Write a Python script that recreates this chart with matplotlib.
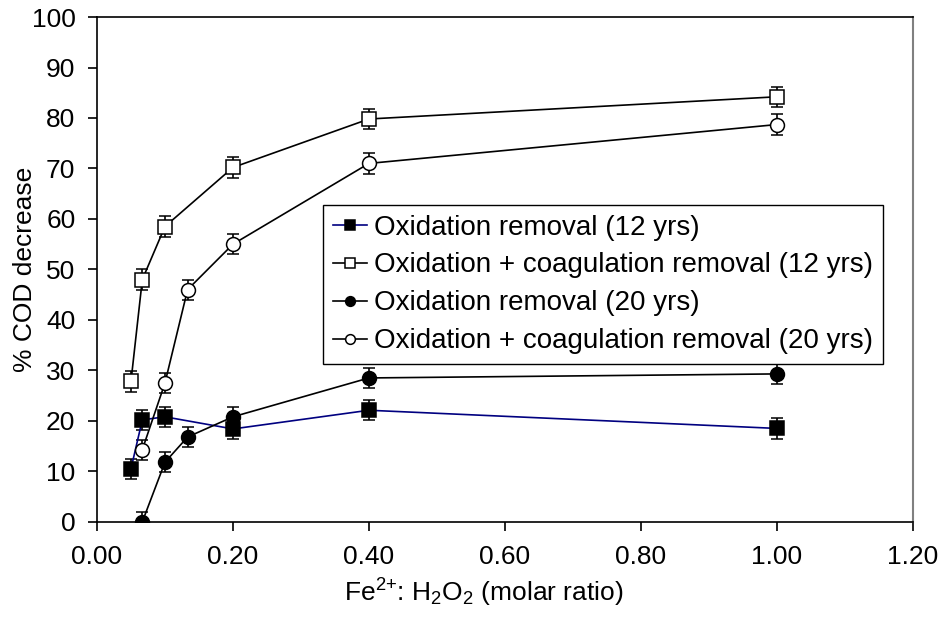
import matplotlib
matplotlib.use("Agg")
import matplotlib.pyplot as plt

plt.rcParams['font.family'] = ['Liberation Sans', 'DejaVu Sans']
plt.rcParams['mathtext.fontset'] = 'custom'
plt.rcParams['mathtext.rm'] = 'Liberation Sans'
plt.rcParams['mathtext.it'] = 'Liberation Sans'
plt.rcParams['mathtext.bf'] = 'Liberation Sans:bold'

x_a = [0.05, 0.0667, 0.1, 0.2, 0.4, 1.0]
ox12 = [10.5, 20.2, 20.8, 18.4, 22.1, 18.5]
oxcoag12 = [27.8, 48.0, 58.5, 70.2, 79.8, 84.2]
x_b = [0.0667, 0.1, 0.1333, 0.2, 0.4, 1.0]
ox20 = [0.0, 11.8, 16.8, 20.8, 28.5, 29.3]
oxcoag20 = [14.3, 27.5, 46.0, 55.0, 71.0, 78.7]
err = 2.0

labels = ["Oxidation removal (12 yrs)",
          "Oxidation + coagulation removal (12 yrs)",
          "Oxidation removal (20 yrs)",
          "Oxidation + coagulation removal (20 yrs)"]

FS = 19
fig = plt.figure(figsize=(9.46, 6.19), dpi=100)
ax = fig.add_axes([0.1025, 0.157, 0.8625, 0.8155])

common = dict(capsize=4, elinewidth=1.2, capthick=1.2, lw=1.2, markersize=10,
              markeredgewidth=1.1)
c1 = ax.errorbar(x_a, ox12, yerr=err, color='#000080', ecolor='black', marker='s',
                 mfc='black', mec='black', **common)
c2 = ax.errorbar(x_a, oxcoag12, yerr=err, color='black', ecolor='black', marker='s',
                 mfc='white', mec='black', **common)
c3 = ax.errorbar(x_b, ox20, yerr=err, color='black', ecolor='black', marker='o',
                 mfc='black', mec='black', **common)
c4 = ax.errorbar(x_b, oxcoag20, yerr=err, color='black', ecolor='black', marker='o',
                 mfc='white', mec='black', **common)

ax.set_xlim(0, 1.2)
ax.set_ylim(0, 100)
ax.set_xticks([0, 0.2, 0.4, 0.6, 0.8, 1.0, 1.2])
ax.set_xticklabels(["0.00", "0.20", "0.40", "0.60", "0.80", "1.00", "1.20"])
ax.set_yticks(range(0, 101, 10))
ax.tick_params(labelsize=FS, direction='out', length=6.5, width=1.2)
ax.tick_params(axis='x', pad=10)
ax.tick_params(axis='y', pad=9)
for s in ['left', 'bottom', 'top']:
    ax.spines[s].set_linewidth(1.2)
ax.spines['right'].set_color('#808080')
ax.spines['right'].set_linewidth(1.5)

ax.set_xlabel(r"Fe$^{2{+}}$: H$_2$O$_2$ (molar ratio)", fontsize=FS)
ax.xaxis.set_label_coords(0.474, -0.108)
ax.set_ylabel("% COD decrease", fontsize=FS)
ax.yaxis.set_label_coords(-0.074, 0.5)

handles = [c.lines[0] for c in (c1, c2, c3, c4)]
leg = ax.legend(handles, labels, loc='upper left', bbox_to_anchor=(0.277, 0.628),
                fontsize=20, frameon=True, fancybox=False, edgecolor='black',
                framealpha=1, handlelength=1.25, handletextpad=0.25, borderpad=0.35,
                labelspacing=0.43, markerscale=0.7, borderaxespad=0)
leg.get_frame().set_linewidth(1.0)

fig.savefig("out.png", dpi=100)
